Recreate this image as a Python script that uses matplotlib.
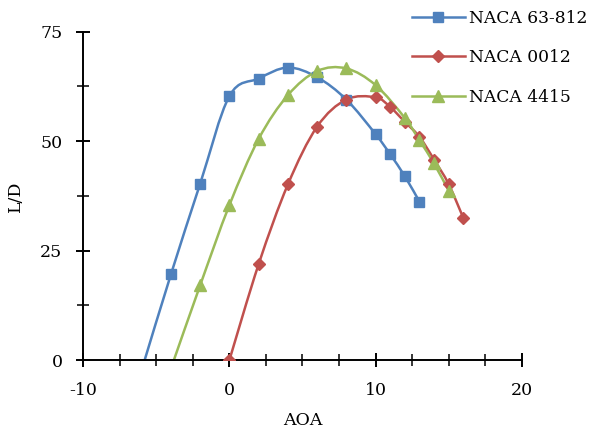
import numpy as np
import matplotlib
matplotlib.use("Agg")
import matplotlib.pyplot as plt
from matplotlib.path import Path
from matplotlib.patches import PathPatch
from matplotlib.ticker import MultipleLocator

# ── Data ──────────────────────────────────────
aoa_63812 = [-5.8, -4, -2, 0, 2, 4, 6, 8, 10, 11, 12, 13]
ld_63812 = [0, 19.6, 40.3, 60.3, 64.3, 66.8, 64.6, 59.5, 51.6, 47.0, 42.0, 36.2]

aoa_0012 = [0, 2, 4, 6, 8, 10, 11, 12, 13, 14, 15, 16]
ld_0012 = [0, 21.9, 40.1, 53.3, 59.5, 60.0, 57.8, 54.4, 51.0, 45.8, 40.2, 32.5]

aoa_4415 = [-3.8, -2, 0, 2, 4, 6, 8, 10, 12, 13, 14, 15]
ld_4415 = [0, 17.1, 35.4, 50.5, 60.5, 66.0, 66.6, 62.8, 55.3, 50.2, 44.9, 38.7]

series = [
    ("NACA 63-812", aoa_63812, ld_63812, "#4F81BD", "s", 7.5),
    ("NACA 0012", aoa_0012, ld_0012, "#C0504D", "D", 6),
    ("NACA 4415", aoa_4415, ld_4415, "#9BBB59", "^", 8),
]


def smooth_path(x, y):
    # Excel-style smoothed line: cubic Bezier through every point
    pts = np.column_stack([x, y]).astype(float)
    n = len(pts)
    verts = [pts[0]]
    codes = [Path.MOVETO]
    for i in range(n - 1):
        p0 = pts[i - 1] if i > 0 else pts[i]
        p1, p2 = pts[i], pts[i + 1]
        p3 = pts[i + 2] if i + 2 < n else pts[i + 1]
        c1 = p1 + (p2 - p0) / 6.0
        c2 = p2 - (p3 - p1) / 6.0
        verts += [c1, c2, p2]
        codes += [Path.CURVE4] * 3
    return Path(verts, codes)


plt.rcParams["font.family"] = ["DejaVu Serif"]
plt.rcParams["axes.unicode_minus"] = False

fig = plt.figure(figsize=(5.93, 4.37), dpi=100)
ax = fig.add_axes([0.1405, 0.1762, 0.7392, 0.7513])

for name, x, y, color, marker, ms in series:
    ax.add_patch(PathPatch(smooth_path(x, y), facecolor="none",
                           edgecolor=color, lw=1.8, zorder=2))
    ax.plot(x[1:] if x[0] < 0 else x, y[1:] if x[0] < 0 else y,
            linestyle="none", marker=marker, ms=ms, color=color, zorder=3)
    # legend handle
    ax.plot([], [], color=color, lw=1.8, marker=marker, ms=ms, label=name)

ax.set_xlim(-10, 20)
ax.set_ylim(0, 75)
ax.xaxis.set_major_locator(MultipleLocator(10))
ax.xaxis.set_minor_locator(MultipleLocator(2.5))
ax.yaxis.set_major_locator(MultipleLocator(25))
ax.yaxis.set_minor_locator(MultipleLocator(12.5))

for side in ["top", "right"]:
    ax.spines[side].set_visible(False)
for side in ["left", "bottom"]:
    ax.spines[side].set_linewidth(1.4)

ax.tick_params(which="major", direction="inout", length=10, width=1.4,
               labelsize=12.5)
ax.tick_params(axis="x", which="major", pad=11)
ax.tick_params(axis="y", which="major", pad=10)
ax.tick_params(which="minor", direction="inout", length=8, width=1.1)
ax.set_xlabel("AOA", fontsize=12.5, labelpad=9)
ax.set_ylabel("L/D", fontsize=12.5, labelpad=12)

ax.legend(loc="upper left", bbox_to_anchor=(0.734, 1.088), frameon=False,
          fontsize=12.3, handlelength=3.1, labelspacing=1.33,
          handletextpad=0.25, borderaxespad=0)

fig.savefig("out.png", dpi=100)
